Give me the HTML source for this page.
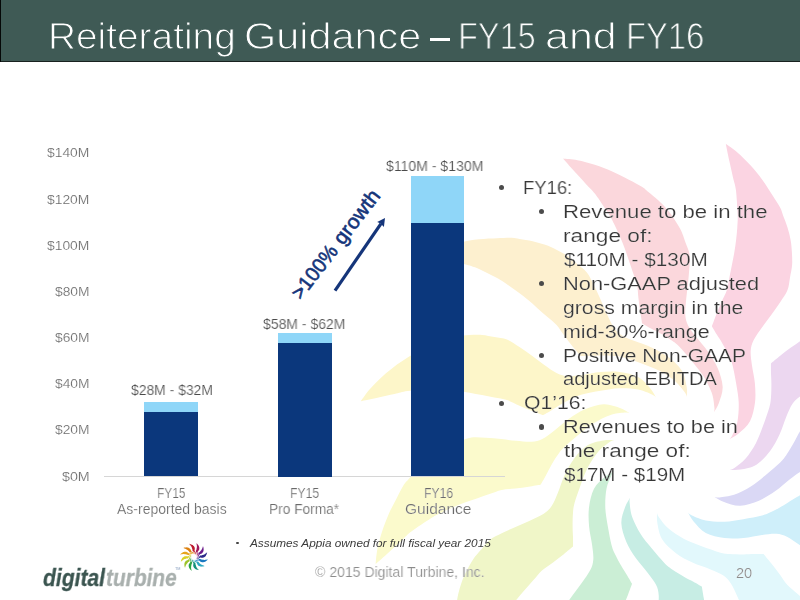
<!DOCTYPE html>
<html>
<head>
<meta charset="utf-8">
<title>Reiterating Guidance</title>
<style>
html,body{margin:0;padding:0;}
body{width:800px;height:600px;position:relative;overflow:hidden;background:#fff;font-family:"Liberation Sans",sans-serif;}
.abs{position:absolute;white-space:nowrap;line-height:1;transform-origin:0 0;will-change:transform;}
#bg{position:absolute;left:0;top:0;width:800px;height:600px;}
#hdr{position:absolute;left:0;top:0;width:800px;height:61px;background:#3f5a55;border-bottom:1px solid #18221f;}
#hdr:before{content:"";position:absolute;left:0;top:0;width:1px;height:62px;background:#050807;}
.gt{top:-17.35px;font-size:20.5px;color:#15357a;-webkit-text-stroke:0.6px #15357a;letter-spacing:0.2px;}
.dot{position:absolute;width:5.2px;height:5.2px;border-radius:50%;background:#4b4b4b;}
</style>
</head>
<body>
<svg id="bg" viewBox="0 0 800 600">
<path d="M725.8 143.8C727.7 145.3 733.3 148.9 737.4 152.5C741.5 156.0 746.1 160.5 750.2 165.1C754.4 169.7 758.7 175.0 762.4 180.0C766.1 185.0 769.4 190.4 772.3 195.0C775.3 199.6 778.3 204.2 780.1 207.6C781.9 210.9 781.7 211.7 782.9 215.0C784.1 218.3 786.2 223.2 787.5 227.4C788.8 231.6 789.9 235.9 790.6 240.1C791.4 244.2 791.6 248.1 791.9 252.3C792.1 256.5 792.4 260.9 792.1 265.1C791.8 269.3 790.7 273.3 790.0 277.4C789.2 281.6 789.2 285.8 787.5 290.0C785.9 294.2 782.7 298.3 780.0 302.5C777.3 306.6 774.1 310.9 771.2 315.0C768.2 319.0 765.2 322.9 762.3 327.0C759.4 331.2 755.7 336.1 753.7 340.0C751.8 343.9 751.0 346.5 750.7 350.6C750.4 354.8 751.2 359.5 751.9 365.0C752.6 370.4 754.4 377.2 754.9 383.5C755.4 389.7 755.8 396.2 755.0 402.5C754.2 408.8 752.7 416.1 750.0 421.2C747.3 426.4 742.0 430.4 738.6 433.4C735.2 436.3 731.1 438.1 729.6 439.0C730.1 438.3 731.2 438.0 732.5 435.0C733.8 432.0 736.5 426.6 737.5 421.2C738.5 415.8 738.9 408.7 738.7 402.5C738.5 396.3 737.2 390.0 736.2 383.7C735.1 377.5 733.7 369.8 732.5 365.0C731.2 360.3 730.5 358.9 728.8 355.4C727.2 351.8 724.5 347.2 722.5 343.7C720.5 340.2 718.6 337.5 716.8 334.6C715.0 331.6 712.7 327.6 711.9 326.2C712.6 324.4 714.6 319.0 716.1 315.0C717.7 311.0 719.5 306.6 721.3 302.5C723.1 298.3 725.5 294.2 726.9 290.0C728.2 285.8 728.5 281.6 729.4 277.4C730.2 273.3 731.1 269.2 731.9 265.0C732.7 260.9 733.6 256.7 734.3 252.6C735.0 248.4 735.6 244.2 736.1 240.0C736.6 235.8 737.0 231.5 737.3 227.4C737.5 223.2 737.9 221.1 737.7 215.0C737.4 208.9 736.7 196.9 736.0 190.6C735.2 184.4 734.1 182.5 733.0 177.5C731.9 172.5 730.5 166.1 729.2 160.5C728.0 154.9 726.3 146.6 725.8 143.8Z" fill="#fbd4e2" transform="rotate(0 672 455)"/>
<path d="M725.8 143.8C727.7 145.3 733.3 148.9 737.4 152.5C741.5 156.0 746.1 160.5 750.2 165.1C754.4 169.7 758.7 175.0 762.4 180.0C766.1 185.0 769.4 190.4 772.3 195.0C775.3 199.6 778.3 204.2 780.1 207.6C781.9 210.9 781.7 211.7 782.9 215.0C784.1 218.3 786.2 223.2 787.5 227.4C788.8 231.6 789.9 235.9 790.6 240.1C791.4 244.2 791.6 248.1 791.9 252.3C792.1 256.5 792.4 260.9 792.1 265.1C791.8 269.3 790.7 273.3 790.0 277.4C789.2 281.6 789.2 285.8 787.5 290.0C785.9 294.2 782.7 298.3 780.0 302.5C777.3 306.6 774.1 310.9 771.2 315.0C768.2 319.0 765.2 322.9 762.3 327.0C759.4 331.2 755.7 336.1 753.7 340.0C751.8 343.9 751.0 346.5 750.7 350.6C750.4 354.8 751.2 359.5 751.9 365.0C752.6 370.4 754.4 377.2 754.9 383.5C755.4 389.7 755.8 396.2 755.0 402.5C754.2 408.8 752.7 416.1 750.0 421.2C747.3 426.4 742.0 430.4 738.6 433.4C735.2 436.3 731.1 438.1 729.6 439.0C730.1 438.3 731.2 438.0 732.5 435.0C733.8 432.0 736.5 426.6 737.5 421.2C738.5 415.8 738.9 408.7 738.7 402.5C738.5 396.3 737.2 390.0 736.2 383.7C735.1 377.5 733.7 369.8 732.5 365.0C731.2 360.3 730.5 358.9 728.8 355.4C727.2 351.8 724.5 347.2 722.5 343.7C720.5 340.2 718.6 337.5 716.8 334.6C715.0 331.6 712.7 327.6 711.9 326.2C712.6 324.4 714.6 319.0 716.1 315.0C717.7 311.0 719.5 306.6 721.3 302.5C723.1 298.3 725.5 294.2 726.9 290.0C728.2 285.8 728.5 281.6 729.4 277.4C730.2 273.3 731.1 269.2 731.9 265.0C732.7 260.9 733.6 256.7 734.3 252.6C735.0 248.4 735.6 244.2 736.1 240.0C736.6 235.8 737.0 231.5 737.3 227.4C737.5 223.2 737.9 221.1 737.7 215.0C737.4 208.9 736.7 196.9 736.0 190.6C735.2 184.4 734.1 182.5 733.0 177.5C731.9 172.5 730.5 166.1 729.2 160.5C728.0 154.9 726.3 146.6 725.8 143.8Z" fill="#fbd7dc" transform="rotate(-30 672 455)"/>
<path d="M725.8 143.8C727.7 145.3 733.3 148.9 737.4 152.5C741.5 156.0 746.1 160.5 750.2 165.1C754.4 169.7 758.7 175.0 762.4 180.0C766.1 185.0 769.4 190.4 772.3 195.0C775.3 199.6 778.3 204.2 780.1 207.6C781.9 210.9 781.7 211.7 782.9 215.0C784.1 218.3 786.2 223.2 787.5 227.4C788.8 231.6 789.9 235.9 790.6 240.1C791.4 244.2 791.6 248.1 791.9 252.3C792.1 256.5 792.4 260.9 792.1 265.1C791.8 269.3 790.7 273.3 790.0 277.4C789.2 281.6 789.2 285.8 787.5 290.0C785.9 294.2 782.7 298.3 780.0 302.5C777.3 306.6 774.1 310.9 771.2 315.0C768.2 319.0 765.2 322.9 762.3 327.0C759.4 331.2 755.7 336.1 753.7 340.0C751.8 343.9 751.0 346.5 750.7 350.6C750.4 354.8 751.2 359.5 751.9 365.0C752.6 370.4 754.4 377.2 754.9 383.5C755.4 389.7 755.8 396.2 755.0 402.5C754.2 408.8 752.7 416.1 750.0 421.2C747.3 426.4 742.0 430.4 738.6 433.4C735.2 436.3 731.1 438.1 729.6 439.0C730.1 438.3 731.2 438.0 732.5 435.0C733.8 432.0 736.5 426.6 737.5 421.2C738.5 415.8 738.9 408.7 738.7 402.5C738.5 396.3 737.2 390.0 736.2 383.7C735.1 377.5 733.7 369.8 732.5 365.0C731.2 360.3 730.5 358.9 728.8 355.4C727.2 351.8 724.5 347.2 722.5 343.7C720.5 340.2 718.6 337.5 716.8 334.6C715.0 331.6 712.7 327.6 711.9 326.2C712.6 324.4 714.6 319.0 716.1 315.0C717.7 311.0 719.5 306.6 721.3 302.5C723.1 298.3 725.5 294.2 726.9 290.0C728.2 285.8 728.5 281.6 729.4 277.4C730.2 273.3 731.1 269.2 731.9 265.0C732.7 260.9 733.6 256.7 734.3 252.6C735.0 248.4 735.6 244.2 736.1 240.0C736.6 235.8 737.0 231.5 737.3 227.4C737.5 223.2 737.9 221.1 737.7 215.0C737.4 208.9 736.7 196.9 736.0 190.6C735.2 184.4 734.1 182.5 733.0 177.5C731.9 172.5 730.5 166.1 729.2 160.5C728.0 154.9 726.3 146.6 725.8 143.8Z" fill="#fdf0cf" transform="rotate(-60 672 455)"/>
<path d="M725.8 143.8C727.7 145.3 733.3 148.9 737.4 152.5C741.5 156.0 746.1 160.5 750.2 165.1C754.4 169.7 758.7 175.0 762.4 180.0C766.1 185.0 769.4 190.4 772.3 195.0C775.3 199.6 778.3 204.2 780.1 207.6C781.9 210.9 781.7 211.7 782.9 215.0C784.1 218.3 786.2 223.2 787.5 227.4C788.8 231.6 789.9 235.9 790.6 240.1C791.4 244.2 791.6 248.1 791.9 252.3C792.1 256.5 792.4 260.9 792.1 265.1C791.8 269.3 790.7 273.3 790.0 277.4C789.2 281.6 789.2 285.8 787.5 290.0C785.9 294.2 782.7 298.3 780.0 302.5C777.3 306.6 774.1 310.9 771.2 315.0C768.2 319.0 765.2 322.9 762.3 327.0C759.4 331.2 755.7 336.1 753.7 340.0C751.8 343.9 751.0 346.5 750.7 350.6C750.4 354.8 751.2 359.5 751.9 365.0C752.6 370.4 754.4 377.2 754.9 383.5C755.4 389.7 755.8 396.2 755.0 402.5C754.2 408.8 752.7 416.1 750.0 421.2C747.3 426.4 742.0 430.4 738.6 433.4C735.2 436.3 731.1 438.1 729.6 439.0C730.1 438.3 731.2 438.0 732.5 435.0C733.8 432.0 736.5 426.6 737.5 421.2C738.5 415.8 738.9 408.7 738.7 402.5C738.5 396.3 737.2 390.0 736.2 383.7C735.1 377.5 733.7 369.8 732.5 365.0C731.2 360.3 730.5 358.9 728.8 355.4C727.2 351.8 724.5 347.2 722.5 343.7C720.5 340.2 718.6 337.5 716.8 334.6C715.0 331.6 712.7 327.6 711.9 326.2C712.6 324.4 714.6 319.0 716.1 315.0C717.7 311.0 719.5 306.6 721.3 302.5C723.1 298.3 725.5 294.2 726.9 290.0C728.2 285.8 728.5 281.6 729.4 277.4C730.2 273.3 731.1 269.2 731.9 265.0C732.7 260.9 733.6 256.7 734.3 252.6C735.0 248.4 735.6 244.2 736.1 240.0C736.6 235.8 737.0 231.5 737.3 227.4C737.5 223.2 737.9 221.1 737.7 215.0C737.4 208.9 736.7 196.9 736.0 190.6C735.2 184.4 734.1 182.5 733.0 177.5C731.9 172.5 730.5 166.1 729.2 160.5C728.0 154.9 726.3 146.6 725.8 143.8Z" fill="#fdf6c9" transform="rotate(-90 672 455)"/>
<path d="M725.8 143.8C727.7 145.3 733.3 148.9 737.4 152.5C741.5 156.0 746.1 160.5 750.2 165.1C754.4 169.7 758.7 175.0 762.4 180.0C766.1 185.0 769.4 190.4 772.3 195.0C775.3 199.6 778.3 204.2 780.1 207.6C781.9 210.9 781.7 211.7 782.9 215.0C784.1 218.3 786.2 223.2 787.5 227.4C788.8 231.6 789.9 235.9 790.6 240.1C791.4 244.2 791.6 248.1 791.9 252.3C792.1 256.5 792.4 260.9 792.1 265.1C791.8 269.3 790.7 273.3 790.0 277.4C789.2 281.6 789.2 285.8 787.5 290.0C785.9 294.2 782.7 298.3 780.0 302.5C777.3 306.6 774.1 310.9 771.2 315.0C768.2 319.0 765.2 322.9 762.3 327.0C759.4 331.2 755.7 336.1 753.7 340.0C751.8 343.9 751.0 346.5 750.7 350.6C750.4 354.8 751.2 359.5 751.9 365.0C752.6 370.4 754.4 377.2 754.9 383.5C755.4 389.7 755.8 396.2 755.0 402.5C754.2 408.8 752.7 416.1 750.0 421.2C747.3 426.4 742.0 430.4 738.6 433.4C735.2 436.3 731.1 438.1 729.6 439.0C730.1 438.3 731.2 438.0 732.5 435.0C733.8 432.0 736.5 426.6 737.5 421.2C738.5 415.8 738.9 408.7 738.7 402.5C738.5 396.3 737.2 390.0 736.2 383.7C735.1 377.5 733.7 369.8 732.5 365.0C731.2 360.3 730.5 358.9 728.8 355.4C727.2 351.8 724.5 347.2 722.5 343.7C720.5 340.2 718.6 337.5 716.8 334.6C715.0 331.6 712.7 327.6 711.9 326.2C712.6 324.4 714.6 319.0 716.1 315.0C717.7 311.0 719.5 306.6 721.3 302.5C723.1 298.3 725.5 294.2 726.9 290.0C728.2 285.8 728.5 281.6 729.4 277.4C730.2 273.3 731.1 269.2 731.9 265.0C732.7 260.9 733.6 256.7 734.3 252.6C735.0 248.4 735.6 244.2 736.1 240.0C736.6 235.8 737.0 231.5 737.3 227.4C737.5 223.2 737.9 221.1 737.7 215.0C737.4 208.9 736.7 196.9 736.0 190.6C735.2 184.4 734.1 182.5 733.0 177.5C731.9 172.5 730.5 166.1 729.2 160.5C728.0 154.9 726.3 146.6 725.8 143.8Z" fill="#fbfacc" transform="rotate(-120 672 455)"/>
<path d="M725.8 143.8C727.7 145.3 733.3 148.9 737.4 152.5C741.5 156.0 746.1 160.5 750.2 165.1C754.4 169.7 758.7 175.0 762.4 180.0C766.1 185.0 769.4 190.4 772.3 195.0C775.3 199.6 778.3 204.2 780.1 207.6C781.9 210.9 781.7 211.7 782.9 215.0C784.1 218.3 786.2 223.2 787.5 227.4C788.8 231.6 789.9 235.9 790.6 240.1C791.4 244.2 791.6 248.1 791.9 252.3C792.1 256.5 792.4 260.9 792.1 265.1C791.8 269.3 790.7 273.3 790.0 277.4C789.2 281.6 789.2 285.8 787.5 290.0C785.9 294.2 782.7 298.3 780.0 302.5C777.3 306.6 774.1 310.9 771.2 315.0C768.2 319.0 765.2 322.9 762.3 327.0C759.4 331.2 755.7 336.1 753.7 340.0C751.8 343.9 751.0 346.5 750.7 350.6C750.4 354.8 751.2 359.5 751.9 365.0C752.6 370.4 754.4 377.2 754.9 383.5C755.4 389.7 755.8 396.2 755.0 402.5C754.2 408.8 752.7 416.1 750.0 421.2C747.3 426.4 742.0 430.4 738.6 433.4C735.2 436.3 731.1 438.1 729.6 439.0C730.1 438.3 731.2 438.0 732.5 435.0C733.8 432.0 736.5 426.6 737.5 421.2C738.5 415.8 738.9 408.7 738.7 402.5C738.5 396.3 737.2 390.0 736.2 383.7C735.1 377.5 733.7 369.8 732.5 365.0C731.2 360.3 730.5 358.9 728.8 355.4C727.2 351.8 724.5 347.2 722.5 343.7C720.5 340.2 718.6 337.5 716.8 334.6C715.0 331.6 712.7 327.6 711.9 326.2C712.6 324.4 714.6 319.0 716.1 315.0C717.7 311.0 719.5 306.6 721.3 302.5C723.1 298.3 725.5 294.2 726.9 290.0C728.2 285.8 728.5 281.6 729.4 277.4C730.2 273.3 731.1 269.2 731.9 265.0C732.7 260.9 733.6 256.7 734.3 252.6C735.0 248.4 735.6 244.2 736.1 240.0C736.6 235.8 737.0 231.5 737.3 227.4C737.5 223.2 737.9 221.1 737.7 215.0C737.4 208.9 736.7 196.9 736.0 190.6C735.2 184.4 734.1 182.5 733.0 177.5C731.9 172.5 730.5 166.1 729.2 160.5C728.0 154.9 726.3 146.6 725.8 143.8Z" fill="#f0f6c8" transform="rotate(-150 672 455)"/>
<path d="M725.8 143.8C727.7 145.3 733.3 148.9 737.4 152.5C741.5 156.0 746.1 160.5 750.2 165.1C754.4 169.7 758.7 175.0 762.4 180.0C766.1 185.0 769.4 190.4 772.3 195.0C775.3 199.6 778.3 204.2 780.1 207.6C781.9 210.9 781.7 211.7 782.9 215.0C784.1 218.3 786.2 223.2 787.5 227.4C788.8 231.6 789.9 235.9 790.6 240.1C791.4 244.2 791.6 248.1 791.9 252.3C792.1 256.5 792.4 260.9 792.1 265.1C791.8 269.3 790.7 273.3 790.0 277.4C789.2 281.6 789.2 285.8 787.5 290.0C785.9 294.2 782.7 298.3 780.0 302.5C777.3 306.6 774.1 310.9 771.2 315.0C768.2 319.0 765.2 322.9 762.3 327.0C759.4 331.2 755.7 336.1 753.7 340.0C751.8 343.9 751.0 346.5 750.7 350.6C750.4 354.8 751.2 359.5 751.9 365.0C752.6 370.4 754.4 377.2 754.9 383.5C755.4 389.7 755.8 396.2 755.0 402.5C754.2 408.8 752.7 416.1 750.0 421.2C747.3 426.4 742.0 430.4 738.6 433.4C735.2 436.3 731.1 438.1 729.6 439.0C730.1 438.3 731.2 438.0 732.5 435.0C733.8 432.0 736.5 426.6 737.5 421.2C738.5 415.8 738.9 408.7 738.7 402.5C738.5 396.3 737.2 390.0 736.2 383.7C735.1 377.5 733.7 369.8 732.5 365.0C731.2 360.3 730.5 358.9 728.8 355.4C727.2 351.8 724.5 347.2 722.5 343.7C720.5 340.2 718.6 337.5 716.8 334.6C715.0 331.6 712.7 327.6 711.9 326.2C712.6 324.4 714.6 319.0 716.1 315.0C717.7 311.0 719.5 306.6 721.3 302.5C723.1 298.3 725.5 294.2 726.9 290.0C728.2 285.8 728.5 281.6 729.4 277.4C730.2 273.3 731.1 269.2 731.9 265.0C732.7 260.9 733.6 256.7 734.3 252.6C735.0 248.4 735.6 244.2 736.1 240.0C736.6 235.8 737.0 231.5 737.3 227.4C737.5 223.2 737.9 221.1 737.7 215.0C737.4 208.9 736.7 196.9 736.0 190.6C735.2 184.4 734.1 182.5 733.0 177.5C731.9 172.5 730.5 166.1 729.2 160.5C728.0 154.9 726.3 146.6 725.8 143.8Z" fill="#cbeed5" transform="rotate(-180 672 455)"/>
<path d="M725.8 143.8C727.7 145.3 733.3 148.9 737.4 152.5C741.5 156.0 746.1 160.5 750.2 165.1C754.4 169.7 758.7 175.0 762.4 180.0C766.1 185.0 769.4 190.4 772.3 195.0C775.3 199.6 778.3 204.2 780.1 207.6C781.9 210.9 781.7 211.7 782.9 215.0C784.1 218.3 786.2 223.2 787.5 227.4C788.8 231.6 789.9 235.9 790.6 240.1C791.4 244.2 791.6 248.1 791.9 252.3C792.1 256.5 792.4 260.9 792.1 265.1C791.8 269.3 790.7 273.3 790.0 277.4C789.2 281.6 789.2 285.8 787.5 290.0C785.9 294.2 782.7 298.3 780.0 302.5C777.3 306.6 774.1 310.9 771.2 315.0C768.2 319.0 765.2 322.9 762.3 327.0C759.4 331.2 755.7 336.1 753.7 340.0C751.8 343.9 751.0 346.5 750.7 350.6C750.4 354.8 751.2 359.5 751.9 365.0C752.6 370.4 754.4 377.2 754.9 383.5C755.4 389.7 755.8 396.2 755.0 402.5C754.2 408.8 752.7 416.1 750.0 421.2C747.3 426.4 742.0 430.4 738.6 433.4C735.2 436.3 731.1 438.1 729.6 439.0C730.1 438.3 731.2 438.0 732.5 435.0C733.8 432.0 736.5 426.6 737.5 421.2C738.5 415.8 738.9 408.7 738.7 402.5C738.5 396.3 737.2 390.0 736.2 383.7C735.1 377.5 733.7 369.8 732.5 365.0C731.2 360.3 730.5 358.9 728.8 355.4C727.2 351.8 724.5 347.2 722.5 343.7C720.5 340.2 718.6 337.5 716.8 334.6C715.0 331.6 712.7 327.6 711.9 326.2C712.6 324.4 714.6 319.0 716.1 315.0C717.7 311.0 719.5 306.6 721.3 302.5C723.1 298.3 725.5 294.2 726.9 290.0C728.2 285.8 728.5 281.6 729.4 277.4C730.2 273.3 731.1 269.2 731.9 265.0C732.7 260.9 733.6 256.7 734.3 252.6C735.0 248.4 735.6 244.2 736.1 240.0C736.6 235.8 737.0 231.5 737.3 227.4C737.5 223.2 737.9 221.1 737.7 215.0C737.4 208.9 736.7 196.9 736.0 190.6C735.2 184.4 734.1 182.5 733.0 177.5C731.9 172.5 730.5 166.1 729.2 160.5C728.0 154.9 726.3 146.6 725.8 143.8Z" fill="#c7ede4" transform="rotate(-210 672 455)"/>
<path d="M725.8 143.8C727.7 145.3 733.3 148.9 737.4 152.5C741.5 156.0 746.1 160.5 750.2 165.1C754.4 169.7 758.7 175.0 762.4 180.0C766.1 185.0 769.4 190.4 772.3 195.0C775.3 199.6 778.3 204.2 780.1 207.6C781.9 210.9 781.7 211.7 782.9 215.0C784.1 218.3 786.2 223.2 787.5 227.4C788.8 231.6 789.9 235.9 790.6 240.1C791.4 244.2 791.6 248.1 791.9 252.3C792.1 256.5 792.4 260.9 792.1 265.1C791.8 269.3 790.7 273.3 790.0 277.4C789.2 281.6 789.2 285.8 787.5 290.0C785.9 294.2 782.7 298.3 780.0 302.5C777.3 306.6 774.1 310.9 771.2 315.0C768.2 319.0 765.2 322.9 762.3 327.0C759.4 331.2 755.7 336.1 753.7 340.0C751.8 343.9 751.0 346.5 750.7 350.6C750.4 354.8 751.2 359.5 751.9 365.0C752.6 370.4 754.4 377.2 754.9 383.5C755.4 389.7 755.8 396.2 755.0 402.5C754.2 408.8 752.7 416.1 750.0 421.2C747.3 426.4 742.0 430.4 738.6 433.4C735.2 436.3 731.1 438.1 729.6 439.0C730.1 438.3 731.2 438.0 732.5 435.0C733.8 432.0 736.5 426.6 737.5 421.2C738.5 415.8 738.9 408.7 738.7 402.5C738.5 396.3 737.2 390.0 736.2 383.7C735.1 377.5 733.7 369.8 732.5 365.0C731.2 360.3 730.5 358.9 728.8 355.4C727.2 351.8 724.5 347.2 722.5 343.7C720.5 340.2 718.6 337.5 716.8 334.6C715.0 331.6 712.7 327.6 711.9 326.2C712.6 324.4 714.6 319.0 716.1 315.0C717.7 311.0 719.5 306.6 721.3 302.5C723.1 298.3 725.5 294.2 726.9 290.0C728.2 285.8 728.5 281.6 729.4 277.4C730.2 273.3 731.1 269.2 731.9 265.0C732.7 260.9 733.6 256.7 734.3 252.6C735.0 248.4 735.6 244.2 736.1 240.0C736.6 235.8 737.0 231.5 737.3 227.4C737.5 223.2 737.9 221.1 737.7 215.0C737.4 208.9 736.7 196.9 736.0 190.6C735.2 184.4 734.1 182.5 733.0 177.5C731.9 172.5 730.5 166.1 729.2 160.5C728.0 154.9 726.3 146.6 725.8 143.8Z" fill="#e2f8fc" transform="rotate(-240 672 455)"/>
<path d="M725.8 143.8C727.7 145.3 733.3 148.9 737.4 152.5C741.5 156.0 746.1 160.5 750.2 165.1C754.4 169.7 758.7 175.0 762.4 180.0C766.1 185.0 769.4 190.4 772.3 195.0C775.3 199.6 778.3 204.2 780.1 207.6C781.9 210.9 781.7 211.7 782.9 215.0C784.1 218.3 786.2 223.2 787.5 227.4C788.8 231.6 789.9 235.9 790.6 240.1C791.4 244.2 791.6 248.1 791.9 252.3C792.1 256.5 792.4 260.9 792.1 265.1C791.8 269.3 790.7 273.3 790.0 277.4C789.2 281.6 789.2 285.8 787.5 290.0C785.9 294.2 782.7 298.3 780.0 302.5C777.3 306.6 774.1 310.9 771.2 315.0C768.2 319.0 765.2 322.9 762.3 327.0C759.4 331.2 755.7 336.1 753.7 340.0C751.8 343.9 751.0 346.5 750.7 350.6C750.4 354.8 751.2 359.5 751.9 365.0C752.6 370.4 754.4 377.2 754.9 383.5C755.4 389.7 755.8 396.2 755.0 402.5C754.2 408.8 752.7 416.1 750.0 421.2C747.3 426.4 742.0 430.4 738.6 433.4C735.2 436.3 731.1 438.1 729.6 439.0C730.1 438.3 731.2 438.0 732.5 435.0C733.8 432.0 736.5 426.6 737.5 421.2C738.5 415.8 738.9 408.7 738.7 402.5C738.5 396.3 737.2 390.0 736.2 383.7C735.1 377.5 733.7 369.8 732.5 365.0C731.2 360.3 730.5 358.9 728.8 355.4C727.2 351.8 724.5 347.2 722.5 343.7C720.5 340.2 718.6 337.5 716.8 334.6C715.0 331.6 712.7 327.6 711.9 326.2C712.6 324.4 714.6 319.0 716.1 315.0C717.7 311.0 719.5 306.6 721.3 302.5C723.1 298.3 725.5 294.2 726.9 290.0C728.2 285.8 728.5 281.6 729.4 277.4C730.2 273.3 731.1 269.2 731.9 265.0C732.7 260.9 733.6 256.7 734.3 252.6C735.0 248.4 735.6 244.2 736.1 240.0C736.6 235.8 737.0 231.5 737.3 227.4C737.5 223.2 737.9 221.1 737.7 215.0C737.4 208.9 736.7 196.9 736.0 190.6C735.2 184.4 734.1 182.5 733.0 177.5C731.9 172.5 730.5 166.1 729.2 160.5C728.0 154.9 726.3 146.6 725.8 143.8Z" fill="#cfeffa" transform="rotate(-270 672 455)"/>
<path d="M725.8 143.8C727.7 145.3 733.3 148.9 737.4 152.5C741.5 156.0 746.1 160.5 750.2 165.1C754.4 169.7 758.7 175.0 762.4 180.0C766.1 185.0 769.4 190.4 772.3 195.0C775.3 199.6 778.3 204.2 780.1 207.6C781.9 210.9 781.7 211.7 782.9 215.0C784.1 218.3 786.2 223.2 787.5 227.4C788.8 231.6 789.9 235.9 790.6 240.1C791.4 244.2 791.6 248.1 791.9 252.3C792.1 256.5 792.4 260.9 792.1 265.1C791.8 269.3 790.7 273.3 790.0 277.4C789.2 281.6 789.2 285.8 787.5 290.0C785.9 294.2 782.7 298.3 780.0 302.5C777.3 306.6 774.1 310.9 771.2 315.0C768.2 319.0 765.2 322.9 762.3 327.0C759.4 331.2 755.7 336.1 753.7 340.0C751.8 343.9 751.0 346.5 750.7 350.6C750.4 354.8 751.2 359.5 751.9 365.0C752.6 370.4 754.4 377.2 754.9 383.5C755.4 389.7 755.8 396.2 755.0 402.5C754.2 408.8 752.7 416.1 750.0 421.2C747.3 426.4 742.0 430.4 738.6 433.4C735.2 436.3 731.1 438.1 729.6 439.0C730.1 438.3 731.2 438.0 732.5 435.0C733.8 432.0 736.5 426.6 737.5 421.2C738.5 415.8 738.9 408.7 738.7 402.5C738.5 396.3 737.2 390.0 736.2 383.7C735.1 377.5 733.7 369.8 732.5 365.0C731.2 360.3 730.5 358.9 728.8 355.4C727.2 351.8 724.5 347.2 722.5 343.7C720.5 340.2 718.6 337.5 716.8 334.6C715.0 331.6 712.7 327.6 711.9 326.2C712.6 324.4 714.6 319.0 716.1 315.0C717.7 311.0 719.5 306.6 721.3 302.5C723.1 298.3 725.5 294.2 726.9 290.0C728.2 285.8 728.5 281.6 729.4 277.4C730.2 273.3 731.1 269.2 731.9 265.0C732.7 260.9 733.6 256.7 734.3 252.6C735.0 248.4 735.6 244.2 736.1 240.0C736.6 235.8 737.0 231.5 737.3 227.4C737.5 223.2 737.9 221.1 737.7 215.0C737.4 208.9 736.7 196.9 736.0 190.6C735.2 184.4 734.1 182.5 733.0 177.5C731.9 172.5 730.5 166.1 729.2 160.5C728.0 154.9 726.3 146.6 725.8 143.8Z" fill="#dad8f5" transform="rotate(-300 672 455)"/>
<path d="M725.8 143.8C727.7 145.3 733.3 148.9 737.4 152.5C741.5 156.0 746.1 160.5 750.2 165.1C754.4 169.7 758.7 175.0 762.4 180.0C766.1 185.0 769.4 190.4 772.3 195.0C775.3 199.6 778.3 204.2 780.1 207.6C781.9 210.9 781.7 211.7 782.9 215.0C784.1 218.3 786.2 223.2 787.5 227.4C788.8 231.6 789.9 235.9 790.6 240.1C791.4 244.2 791.6 248.1 791.9 252.3C792.1 256.5 792.4 260.9 792.1 265.1C791.8 269.3 790.7 273.3 790.0 277.4C789.2 281.6 789.2 285.8 787.5 290.0C785.9 294.2 782.7 298.3 780.0 302.5C777.3 306.6 774.1 310.9 771.2 315.0C768.2 319.0 765.2 322.9 762.3 327.0C759.4 331.2 755.7 336.1 753.7 340.0C751.8 343.9 751.0 346.5 750.7 350.6C750.4 354.8 751.2 359.5 751.9 365.0C752.6 370.4 754.4 377.2 754.9 383.5C755.4 389.7 755.8 396.2 755.0 402.5C754.2 408.8 752.7 416.1 750.0 421.2C747.3 426.4 742.0 430.4 738.6 433.4C735.2 436.3 731.1 438.1 729.6 439.0C730.1 438.3 731.2 438.0 732.5 435.0C733.8 432.0 736.5 426.6 737.5 421.2C738.5 415.8 738.9 408.7 738.7 402.5C738.5 396.3 737.2 390.0 736.2 383.7C735.1 377.5 733.7 369.8 732.5 365.0C731.2 360.3 730.5 358.9 728.8 355.4C727.2 351.8 724.5 347.2 722.5 343.7C720.5 340.2 718.6 337.5 716.8 334.6C715.0 331.6 712.7 327.6 711.9 326.2C712.6 324.4 714.6 319.0 716.1 315.0C717.7 311.0 719.5 306.6 721.3 302.5C723.1 298.3 725.5 294.2 726.9 290.0C728.2 285.8 728.5 281.6 729.4 277.4C730.2 273.3 731.1 269.2 731.9 265.0C732.7 260.9 733.6 256.7 734.3 252.6C735.0 248.4 735.6 244.2 736.1 240.0C736.6 235.8 737.0 231.5 737.3 227.4C737.5 223.2 737.9 221.1 737.7 215.0C737.4 208.9 736.7 196.9 736.0 190.6C735.2 184.4 734.1 182.5 733.0 177.5C731.9 172.5 730.5 166.1 729.2 160.5C728.0 154.9 726.3 146.6 725.8 143.8Z" fill="#ecd7f0" transform="rotate(-330 672 455)"/>
</svg>
<div id="hdr"></div>
<div class="abs" style="left:47.91px;top:19px;font-size:36.4px;color:#fff;transform:scaleX(1.0667);-webkit-text-stroke:1px #3f5a55;">Reiterating</div>
<div class="abs" style="left:244.35px;top:19px;font-size:36.4px;color:#fff;transform:scaleX(1.1384);-webkit-text-stroke:1px #3f5a55;">Guidance</div>
<div class="abs" style="left:458.31px;top:19px;font-size:36.4px;color:#fff;transform:scaleX(0.8936);-webkit-text-stroke:1px #3f5a55;">FY15</div>
<div class="abs" style="left:545.03px;top:19px;font-size:36.4px;color:#fff;transform:scaleX(1.1810);-webkit-text-stroke:1px #3f5a55;">and</div>
<div class="abs" style="left:626.09px;top:19px;font-size:36.4px;color:#fff;transform:scaleX(0.8995);-webkit-text-stroke:1px #3f5a55;">FY16</div>
<div class="abs" style="left:429.7px;top:37.5px;width:19.5px;height:2.6px;background:#fff"></div>
<div class="abs" style="left:47.39px;top:146px;font-size:13.2px;color:#696969;transform:scaleX(1.0509);-webkit-text-stroke:0.22px rgba(255,255,255,0.85);">$140M</div>
<div class="abs" style="left:47.39px;top:193px;font-size:13.2px;color:#696969;transform:scaleX(1.0509);-webkit-text-stroke:0.22px rgba(255,255,255,0.85);">$120M</div>
<div class="abs" style="left:47.39px;top:239px;font-size:13.2px;color:#696969;transform:scaleX(1.0509);-webkit-text-stroke:0.22px rgba(255,255,255,0.85);">$100M</div>
<div class="abs" style="left:55.30px;top:285px;font-size:13.2px;color:#696969;transform:scaleX(1.0470);-webkit-text-stroke:0.22px rgba(255,255,255,0.85);">$80M</div>
<div class="abs" style="left:55.30px;top:331px;font-size:13.2px;color:#696969;transform:scaleX(1.0470);-webkit-text-stroke:0.22px rgba(255,255,255,0.85);">$60M</div>
<div class="abs" style="left:55.30px;top:377px;font-size:13.2px;color:#696969;transform:scaleX(1.0470);-webkit-text-stroke:0.22px rgba(255,255,255,0.85);">$40M</div>
<div class="abs" style="left:55.30px;top:423px;font-size:13.2px;color:#696969;transform:scaleX(1.0470);-webkit-text-stroke:0.22px rgba(255,255,255,0.85);">$20M</div>
<div class="abs" style="left:62.09px;top:470px;font-size:13.2px;color:#696969;transform:scaleX(1.0813);-webkit-text-stroke:0.22px rgba(255,255,255,0.85);">$0M</div>
<div class="abs" style="left:104px;top:475.6px;width:401px;height:1px;background:#d6d6d6"></div>
<div class="abs" style="left:144.4px;top:402.3px;width:53.7px;height:10.2px;background:#8fd6f8"></div><div class="abs" style="left:144.4px;top:412.0px;width:53.7px;height:64.0px;background:#0b377c"></div>
<div class="abs" style="left:278.2px;top:333.4px;width:53.8px;height:9.6px;background:#8fd6f8"></div><div class="abs" style="left:278.2px;top:342.5px;width:53.8px;height:133.5px;background:#0b377c"></div>
<div class="abs" style="left:411.3px;top:176.1px;width:53.2px;height:47.3px;background:#8fd6f8"></div><div class="abs" style="left:411.3px;top:222.9px;width:53.2px;height:253.1px;background:#0b377c"></div>
<div class="abs" style="left:131.40px;top:383px;font-size:14.3px;color:#4a4a4a;transform:scaleX(0.9729);-webkit-text-stroke:0.22px rgba(255,255,255,0.85);">$28M - $32M</div>
<div class="abs" style="left:262.90px;top:317px;font-size:14.3px;color:#4a4a4a;transform:scaleX(0.9783);-webkit-text-stroke:0.22px rgba(255,255,255,0.85);">$58M - $62M</div>
<div class="abs" style="left:386.10px;top:159px;font-size:14.3px;color:#4a4a4a;transform:scaleX(0.9826);-webkit-text-stroke:0.22px rgba(255,255,255,0.85);">$110M - $130M</div>
<div class="abs" style="left:157.07px;top:486px;font-size:14px;color:#6a6a6a;transform:scaleX(0.8491);-webkit-text-stroke:0.22px rgba(255,255,255,0.85);">FY15</div>
<div class="abs" style="left:117.00px;top:502px;font-size:14px;color:#6a6a6a;-webkit-text-stroke:0.22px rgba(255,255,255,0.85);">As-reported basis</div>
<div class="abs" style="left:289.65px;top:486px;font-size:14px;color:#6a6a6a;transform:scaleX(0.8679);-webkit-text-stroke:0.22px rgba(255,255,255,0.85);">FY15</div>
<div class="abs" style="left:269.42px;top:502px;font-size:14px;color:#6a6a6a;transform:scaleX(0.9801);-webkit-text-stroke:0.22px rgba(255,255,255,0.85);">Pro Forma*</div>
<div class="abs" style="left:423.55px;top:486px;font-size:14px;color:#6a6a6a;transform:scaleX(0.8679);-webkit-text-stroke:0.22px rgba(255,255,255,0.85);">FY16</div>
<div class="abs" style="left:404.52px;top:502px;font-size:14px;color:#6a6a6a;transform:scaleX(1.1092);-webkit-text-stroke:0.22px rgba(255,255,255,0.85);">Guidance</div>
<div class="abs" style="left:342.6px;top:246.3px;width:0;height:0;transform:rotate(-52.5deg);will-change:auto;">
  <div class="abs gt" style="left:-69.2px;transform:scaleX(0.955);will-change:auto;">&gt;100%</div>
  <div class="abs gt" style="left:0.1px;transform:scaleX(1.007);will-change:auto;">growth</div>
</div>
<svg class="abs" style="left:320px;top:200px;will-change:auto;" width="80" height="110" viewBox="320 200 80 110">
  <line x1="335" y1="290.6" x2="381" y2="223.6" stroke="#15357a" stroke-width="3.2"/>
  <path d="M385 218 L377.2 222 L380.6 223.4 L383.9 227 Z" fill="#15357a"/>
</svg>

<div class="abs" style="left:522.96px;top:178px;font-size:19.2px;color:#363636;transform:scaleX(0.9625);-webkit-text-stroke:0.22px rgba(255,255,255,0.8);">FY16:</div>
<div class="dot" style="left:498.65px;top:185.30px"></div>
<div class="abs" style="left:562.52px;top:202px;font-size:19.2px;color:#363636;transform:scaleX(1.1549);-webkit-text-stroke:0.22px rgba(255,255,255,0.8);">Revenue to be in the</div>
<div class="dot" style="left:539.15px;top:209.03px"></div>
<div class="abs" style="left:562.83px;top:226px;font-size:19.2px;color:#363636;transform:scaleX(1.1831);-webkit-text-stroke:0.22px rgba(255,255,255,0.8);">range of:</div>
<div class="abs" style="left:564.03px;top:250px;font-size:19.2px;color:#363636;transform:scaleX(1.0807);-webkit-text-stroke:0.22px rgba(255,255,255,0.8);">$110M - $130M</div>
<div class="abs" style="left:562.54px;top:274px;font-size:19.2px;color:#363636;transform:scaleX(1.1374);-webkit-text-stroke:0.22px rgba(255,255,255,0.8);">Non-GAAP adjusted</div>
<div class="dot" style="left:539.15px;top:280.82px"></div>
<div class="abs" style="left:563.37px;top:298px;font-size:19.2px;color:#363636;transform:scaleX(1.1054);-webkit-text-stroke:0.22px rgba(255,255,255,0.8);">gross margin in the</div>
<div class="abs" style="left:562.91px;top:322px;font-size:19.2px;color:#363636;transform:scaleX(1.1176);-webkit-text-stroke:0.22px rgba(255,255,255,0.8);">mid-30%-range</div>
<div class="abs" style="left:562.61px;top:346px;font-size:19.2px;color:#363636;transform:scaleX(1.0924);-webkit-text-stroke:0.22px rgba(255,255,255,0.8);">Positive Non-GAAP</div>
<div class="dot" style="left:539.15px;top:352.61px"></div>
<div class="abs" style="left:563.41px;top:369px;font-size:19.2px;color:#363636;transform:scaleX(1.0461);-webkit-text-stroke:0.22px rgba(255,255,255,0.8);">adjusted EBITDA</div>
<div class="abs" style="left:524.01px;top:393px;font-size:19.2px;color:#363636;transform:scaleX(1.1039);-webkit-text-stroke:0.22px rgba(255,255,255,0.8);">Q1’16:</div>
<div class="dot" style="left:498.65px;top:400.67px"></div>
<div class="abs" style="left:562.55px;top:417px;font-size:19.2px;color:#363636;transform:scaleX(1.1308);-webkit-text-stroke:0.22px rgba(255,255,255,0.8);">Revenues to be in</div>
<div class="dot" style="left:539.15px;top:424.40px"></div>
<div class="abs" style="left:564.01px;top:441px;font-size:19.2px;color:#363636;transform:scaleX(1.1756);-webkit-text-stroke:0.22px rgba(255,255,255,0.8);">the range of:</div>
<div class="abs" style="left:564.04px;top:465px;font-size:19.2px;color:#363636;transform:scaleX(1.0727);-webkit-text-stroke:0.22px rgba(255,255,255,0.8);">$17M - $19M</div>
<div class="dot" style="left:236.1px;top:541.5px;width:2.6px;height:2.6px;background:#444"></div>
<div class="abs" style="left:250.27px;top:538px;font-size:10.6px;color:#3c3c3c;font-style:italic;transform:scaleX(1.1131);">Assumes Appia owned for full fiscal year 2015</div>
<div class="abs" style="left:315.30px;top:565px;font-size:14.2px;color:#8b8b8b;transform:scaleX(0.9897);-webkit-text-stroke:0.22px rgba(255,255,255,0.85);">© 2015 Digital Turbine, Inc.</div>
<div class="abs" style="left:736.48px;top:566px;font-size:14.2px;color:#8b8b8b;transform:scaleX(1.0274);-webkit-text-stroke:0.22px rgba(255,255,255,0.85);">20</div>
<div class="abs" style="left:42.80px;top:566px;font-size:24.7px;color:#3b5550;font-weight:bold;font-style:italic;transform:scaleX(0.8538);-webkit-text-stroke:0.3px #3b5550;">digital</div>
<div class="abs" style="left:106.35px;top:566px;font-size:24.7px;color:#a9b0ae;font-weight:bold;font-style:italic;transform:scaleX(0.8453);-webkit-text-stroke:0.3px #a9b0ae;">turbine</div>
<div class="abs" style="left:175.00px;top:568px;font-size:3.8px;color:#8aa0c0;transform:scaleX(0.9615);">TM</div>
<svg class="abs" id="pin" style="left:172.8px;top:536.4px" width="42" height="42" viewBox="-21 -21 42 42">
<path d="M2.38 -13.80C2.47 -13.73 2.72 -13.57 2.90 -13.41C3.08 -13.25 3.28 -13.06 3.47 -12.85C3.65 -12.65 3.85 -12.41 4.01 -12.19C4.17 -11.97 4.32 -11.73 4.45 -11.53C4.58 -11.32 4.71 -11.12 4.79 -10.97C4.87 -10.82 4.86 -10.79 4.92 -10.64C4.97 -10.49 5.06 -10.27 5.12 -10.09C5.18 -9.90 5.23 -9.71 5.26 -9.53C5.29 -9.34 5.30 -9.17 5.31 -8.99C5.32 -8.80 5.34 -8.61 5.32 -8.42C5.31 -8.23 5.26 -8.06 5.23 -7.87C5.20 -7.69 5.19 -7.50 5.12 -7.31C5.05 -7.13 4.91 -6.95 4.79 -6.76C4.67 -6.58 4.53 -6.39 4.40 -6.21C4.26 -6.03 4.13 -5.86 4.00 -5.67C3.87 -5.49 3.71 -5.27 3.62 -5.10C3.54 -4.92 3.50 -4.81 3.49 -4.63C3.47 -4.44 3.51 -4.23 3.54 -3.99C3.58 -3.75 3.65 -3.45 3.67 -3.17C3.70 -2.89 3.72 -2.61 3.68 -2.33C3.64 -2.05 3.58 -1.72 3.46 -1.50C3.34 -1.27 3.10 -1.09 2.95 -0.96C2.80 -0.83 2.62 -0.75 2.55 -0.71C2.58 -0.74 2.62 -0.76 2.68 -0.89C2.74 -1.02 2.86 -1.26 2.90 -1.50C2.95 -1.74 2.97 -2.05 2.96 -2.33C2.95 -2.60 2.89 -2.88 2.84 -3.16C2.80 -3.44 2.73 -3.78 2.68 -3.99C2.63 -4.20 2.59 -4.26 2.52 -4.42C2.45 -4.57 2.33 -4.78 2.24 -4.93C2.15 -5.09 2.06 -5.21 1.99 -5.34C1.91 -5.47 1.80 -5.65 1.77 -5.71C1.80 -5.79 1.89 -6.03 1.96 -6.21C2.03 -6.38 2.10 -6.58 2.18 -6.76C2.26 -6.95 2.37 -7.13 2.43 -7.32C2.49 -7.50 2.51 -7.69 2.54 -7.87C2.58 -8.06 2.62 -8.24 2.66 -8.42C2.69 -8.61 2.73 -8.79 2.76 -8.97C2.79 -9.16 2.82 -9.35 2.84 -9.53C2.86 -9.72 2.88 -9.91 2.89 -10.09C2.90 -10.28 2.92 -10.37 2.91 -10.64C2.90 -10.91 2.87 -11.44 2.84 -11.72C2.80 -12.00 2.75 -12.08 2.70 -12.30C2.65 -12.52 2.59 -12.81 2.54 -13.06C2.48 -13.30 2.41 -13.67 2.38 -13.80Z" fill="#a3195b" transform="rotate(0)"/>
<path d="M2.38 -13.80C2.47 -13.73 2.72 -13.57 2.90 -13.41C3.08 -13.25 3.28 -13.06 3.47 -12.85C3.65 -12.65 3.85 -12.41 4.01 -12.19C4.17 -11.97 4.32 -11.73 4.45 -11.53C4.58 -11.32 4.71 -11.12 4.79 -10.97C4.87 -10.82 4.86 -10.79 4.92 -10.64C4.97 -10.49 5.06 -10.27 5.12 -10.09C5.18 -9.90 5.23 -9.71 5.26 -9.53C5.29 -9.34 5.30 -9.17 5.31 -8.99C5.32 -8.80 5.34 -8.61 5.32 -8.42C5.31 -8.23 5.26 -8.06 5.23 -7.87C5.20 -7.69 5.19 -7.50 5.12 -7.31C5.05 -7.13 4.91 -6.95 4.79 -6.76C4.67 -6.58 4.53 -6.39 4.40 -6.21C4.26 -6.03 4.13 -5.86 4.00 -5.67C3.87 -5.49 3.71 -5.27 3.62 -5.10C3.54 -4.92 3.50 -4.81 3.49 -4.63C3.47 -4.44 3.51 -4.23 3.54 -3.99C3.58 -3.75 3.65 -3.45 3.67 -3.17C3.70 -2.89 3.72 -2.61 3.68 -2.33C3.64 -2.05 3.58 -1.72 3.46 -1.50C3.34 -1.27 3.10 -1.09 2.95 -0.96C2.80 -0.83 2.62 -0.75 2.55 -0.71C2.58 -0.74 2.62 -0.76 2.68 -0.89C2.74 -1.02 2.86 -1.26 2.90 -1.50C2.95 -1.74 2.97 -2.05 2.96 -2.33C2.95 -2.60 2.89 -2.88 2.84 -3.16C2.80 -3.44 2.73 -3.78 2.68 -3.99C2.63 -4.20 2.59 -4.26 2.52 -4.42C2.45 -4.57 2.33 -4.78 2.24 -4.93C2.15 -5.09 2.06 -5.21 1.99 -5.34C1.91 -5.47 1.80 -5.65 1.77 -5.71C1.80 -5.79 1.89 -6.03 1.96 -6.21C2.03 -6.38 2.10 -6.58 2.18 -6.76C2.26 -6.95 2.37 -7.13 2.43 -7.32C2.49 -7.50 2.51 -7.69 2.54 -7.87C2.58 -8.06 2.62 -8.24 2.66 -8.42C2.69 -8.61 2.73 -8.79 2.76 -8.97C2.79 -9.16 2.82 -9.35 2.84 -9.53C2.86 -9.72 2.88 -9.91 2.89 -10.09C2.90 -10.28 2.92 -10.37 2.91 -10.64C2.90 -10.91 2.87 -11.44 2.84 -11.72C2.80 -12.00 2.75 -12.08 2.70 -12.30C2.65 -12.52 2.59 -12.81 2.54 -13.06C2.48 -13.30 2.41 -13.67 2.38 -13.80Z" fill="#be1a2d" transform="rotate(-30)"/>
<path d="M2.38 -13.80C2.47 -13.73 2.72 -13.57 2.90 -13.41C3.08 -13.25 3.28 -13.06 3.47 -12.85C3.65 -12.65 3.85 -12.41 4.01 -12.19C4.17 -11.97 4.32 -11.73 4.45 -11.53C4.58 -11.32 4.71 -11.12 4.79 -10.97C4.87 -10.82 4.86 -10.79 4.92 -10.64C4.97 -10.49 5.06 -10.27 5.12 -10.09C5.18 -9.90 5.23 -9.71 5.26 -9.53C5.29 -9.34 5.30 -9.17 5.31 -8.99C5.32 -8.80 5.34 -8.61 5.32 -8.42C5.31 -8.23 5.26 -8.06 5.23 -7.87C5.20 -7.69 5.19 -7.50 5.12 -7.31C5.05 -7.13 4.91 -6.95 4.79 -6.76C4.67 -6.58 4.53 -6.39 4.40 -6.21C4.26 -6.03 4.13 -5.86 4.00 -5.67C3.87 -5.49 3.71 -5.27 3.62 -5.10C3.54 -4.92 3.50 -4.81 3.49 -4.63C3.47 -4.44 3.51 -4.23 3.54 -3.99C3.58 -3.75 3.65 -3.45 3.67 -3.17C3.70 -2.89 3.72 -2.61 3.68 -2.33C3.64 -2.05 3.58 -1.72 3.46 -1.50C3.34 -1.27 3.10 -1.09 2.95 -0.96C2.80 -0.83 2.62 -0.75 2.55 -0.71C2.58 -0.74 2.62 -0.76 2.68 -0.89C2.74 -1.02 2.86 -1.26 2.90 -1.50C2.95 -1.74 2.97 -2.05 2.96 -2.33C2.95 -2.60 2.89 -2.88 2.84 -3.16C2.80 -3.44 2.73 -3.78 2.68 -3.99C2.63 -4.20 2.59 -4.26 2.52 -4.42C2.45 -4.57 2.33 -4.78 2.24 -4.93C2.15 -5.09 2.06 -5.21 1.99 -5.34C1.91 -5.47 1.80 -5.65 1.77 -5.71C1.80 -5.79 1.89 -6.03 1.96 -6.21C2.03 -6.38 2.10 -6.58 2.18 -6.76C2.26 -6.95 2.37 -7.13 2.43 -7.32C2.49 -7.50 2.51 -7.69 2.54 -7.87C2.58 -8.06 2.62 -8.24 2.66 -8.42C2.69 -8.61 2.73 -8.79 2.76 -8.97C2.79 -9.16 2.82 -9.35 2.84 -9.53C2.86 -9.72 2.88 -9.91 2.89 -10.09C2.90 -10.28 2.92 -10.37 2.91 -10.64C2.90 -10.91 2.87 -11.44 2.84 -11.72C2.80 -12.00 2.75 -12.08 2.70 -12.30C2.65 -12.52 2.59 -12.81 2.54 -13.06C2.48 -13.30 2.41 -13.67 2.38 -13.80Z" fill="#dc800f" transform="rotate(-60)"/>
<path d="M2.38 -13.80C2.47 -13.73 2.72 -13.57 2.90 -13.41C3.08 -13.25 3.28 -13.06 3.47 -12.85C3.65 -12.65 3.85 -12.41 4.01 -12.19C4.17 -11.97 4.32 -11.73 4.45 -11.53C4.58 -11.32 4.71 -11.12 4.79 -10.97C4.87 -10.82 4.86 -10.79 4.92 -10.64C4.97 -10.49 5.06 -10.27 5.12 -10.09C5.18 -9.90 5.23 -9.71 5.26 -9.53C5.29 -9.34 5.30 -9.17 5.31 -8.99C5.32 -8.80 5.34 -8.61 5.32 -8.42C5.31 -8.23 5.26 -8.06 5.23 -7.87C5.20 -7.69 5.19 -7.50 5.12 -7.31C5.05 -7.13 4.91 -6.95 4.79 -6.76C4.67 -6.58 4.53 -6.39 4.40 -6.21C4.26 -6.03 4.13 -5.86 4.00 -5.67C3.87 -5.49 3.71 -5.27 3.62 -5.10C3.54 -4.92 3.50 -4.81 3.49 -4.63C3.47 -4.44 3.51 -4.23 3.54 -3.99C3.58 -3.75 3.65 -3.45 3.67 -3.17C3.70 -2.89 3.72 -2.61 3.68 -2.33C3.64 -2.05 3.58 -1.72 3.46 -1.50C3.34 -1.27 3.10 -1.09 2.95 -0.96C2.80 -0.83 2.62 -0.75 2.55 -0.71C2.58 -0.74 2.62 -0.76 2.68 -0.89C2.74 -1.02 2.86 -1.26 2.90 -1.50C2.95 -1.74 2.97 -2.05 2.96 -2.33C2.95 -2.60 2.89 -2.88 2.84 -3.16C2.80 -3.44 2.73 -3.78 2.68 -3.99C2.63 -4.20 2.59 -4.26 2.52 -4.42C2.45 -4.57 2.33 -4.78 2.24 -4.93C2.15 -5.09 2.06 -5.21 1.99 -5.34C1.91 -5.47 1.80 -5.65 1.77 -5.71C1.80 -5.79 1.89 -6.03 1.96 -6.21C2.03 -6.38 2.10 -6.58 2.18 -6.76C2.26 -6.95 2.37 -7.13 2.43 -7.32C2.49 -7.50 2.51 -7.69 2.54 -7.87C2.58 -8.06 2.62 -8.24 2.66 -8.42C2.69 -8.61 2.73 -8.79 2.76 -8.97C2.79 -9.16 2.82 -9.35 2.84 -9.53C2.86 -9.72 2.88 -9.91 2.89 -10.09C2.90 -10.28 2.92 -10.37 2.91 -10.64C2.90 -10.91 2.87 -11.44 2.84 -11.72C2.80 -12.00 2.75 -12.08 2.70 -12.30C2.65 -12.52 2.59 -12.81 2.54 -13.06C2.48 -13.30 2.41 -13.67 2.38 -13.80Z" fill="#e6a31c" transform="rotate(-90)"/>
<path d="M2.38 -13.80C2.47 -13.73 2.72 -13.57 2.90 -13.41C3.08 -13.25 3.28 -13.06 3.47 -12.85C3.65 -12.65 3.85 -12.41 4.01 -12.19C4.17 -11.97 4.32 -11.73 4.45 -11.53C4.58 -11.32 4.71 -11.12 4.79 -10.97C4.87 -10.82 4.86 -10.79 4.92 -10.64C4.97 -10.49 5.06 -10.27 5.12 -10.09C5.18 -9.90 5.23 -9.71 5.26 -9.53C5.29 -9.34 5.30 -9.17 5.31 -8.99C5.32 -8.80 5.34 -8.61 5.32 -8.42C5.31 -8.23 5.26 -8.06 5.23 -7.87C5.20 -7.69 5.19 -7.50 5.12 -7.31C5.05 -7.13 4.91 -6.95 4.79 -6.76C4.67 -6.58 4.53 -6.39 4.40 -6.21C4.26 -6.03 4.13 -5.86 4.00 -5.67C3.87 -5.49 3.71 -5.27 3.62 -5.10C3.54 -4.92 3.50 -4.81 3.49 -4.63C3.47 -4.44 3.51 -4.23 3.54 -3.99C3.58 -3.75 3.65 -3.45 3.67 -3.17C3.70 -2.89 3.72 -2.61 3.68 -2.33C3.64 -2.05 3.58 -1.72 3.46 -1.50C3.34 -1.27 3.10 -1.09 2.95 -0.96C2.80 -0.83 2.62 -0.75 2.55 -0.71C2.58 -0.74 2.62 -0.76 2.68 -0.89C2.74 -1.02 2.86 -1.26 2.90 -1.50C2.95 -1.74 2.97 -2.05 2.96 -2.33C2.95 -2.60 2.89 -2.88 2.84 -3.16C2.80 -3.44 2.73 -3.78 2.68 -3.99C2.63 -4.20 2.59 -4.26 2.52 -4.42C2.45 -4.57 2.33 -4.78 2.24 -4.93C2.15 -5.09 2.06 -5.21 1.99 -5.34C1.91 -5.47 1.80 -5.65 1.77 -5.71C1.80 -5.79 1.89 -6.03 1.96 -6.21C2.03 -6.38 2.10 -6.58 2.18 -6.76C2.26 -6.95 2.37 -7.13 2.43 -7.32C2.49 -7.50 2.51 -7.69 2.54 -7.87C2.58 -8.06 2.62 -8.24 2.66 -8.42C2.69 -8.61 2.73 -8.79 2.76 -8.97C2.79 -9.16 2.82 -9.35 2.84 -9.53C2.86 -9.72 2.88 -9.91 2.89 -10.09C2.90 -10.28 2.92 -10.37 2.91 -10.64C2.90 -10.91 2.87 -11.44 2.84 -11.72C2.80 -12.00 2.75 -12.08 2.70 -12.30C2.65 -12.52 2.59 -12.81 2.54 -13.06C2.48 -13.30 2.41 -13.67 2.38 -13.80Z" fill="#d9cf22" transform="rotate(-120)"/>
<path d="M2.38 -13.80C2.47 -13.73 2.72 -13.57 2.90 -13.41C3.08 -13.25 3.28 -13.06 3.47 -12.85C3.65 -12.65 3.85 -12.41 4.01 -12.19C4.17 -11.97 4.32 -11.73 4.45 -11.53C4.58 -11.32 4.71 -11.12 4.79 -10.97C4.87 -10.82 4.86 -10.79 4.92 -10.64C4.97 -10.49 5.06 -10.27 5.12 -10.09C5.18 -9.90 5.23 -9.71 5.26 -9.53C5.29 -9.34 5.30 -9.17 5.31 -8.99C5.32 -8.80 5.34 -8.61 5.32 -8.42C5.31 -8.23 5.26 -8.06 5.23 -7.87C5.20 -7.69 5.19 -7.50 5.12 -7.31C5.05 -7.13 4.91 -6.95 4.79 -6.76C4.67 -6.58 4.53 -6.39 4.40 -6.21C4.26 -6.03 4.13 -5.86 4.00 -5.67C3.87 -5.49 3.71 -5.27 3.62 -5.10C3.54 -4.92 3.50 -4.81 3.49 -4.63C3.47 -4.44 3.51 -4.23 3.54 -3.99C3.58 -3.75 3.65 -3.45 3.67 -3.17C3.70 -2.89 3.72 -2.61 3.68 -2.33C3.64 -2.05 3.58 -1.72 3.46 -1.50C3.34 -1.27 3.10 -1.09 2.95 -0.96C2.80 -0.83 2.62 -0.75 2.55 -0.71C2.58 -0.74 2.62 -0.76 2.68 -0.89C2.74 -1.02 2.86 -1.26 2.90 -1.50C2.95 -1.74 2.97 -2.05 2.96 -2.33C2.95 -2.60 2.89 -2.88 2.84 -3.16C2.80 -3.44 2.73 -3.78 2.68 -3.99C2.63 -4.20 2.59 -4.26 2.52 -4.42C2.45 -4.57 2.33 -4.78 2.24 -4.93C2.15 -5.09 2.06 -5.21 1.99 -5.34C1.91 -5.47 1.80 -5.65 1.77 -5.71C1.80 -5.79 1.89 -6.03 1.96 -6.21C2.03 -6.38 2.10 -6.58 2.18 -6.76C2.26 -6.95 2.37 -7.13 2.43 -7.32C2.49 -7.50 2.51 -7.69 2.54 -7.87C2.58 -8.06 2.62 -8.24 2.66 -8.42C2.69 -8.61 2.73 -8.79 2.76 -8.97C2.79 -9.16 2.82 -9.35 2.84 -9.53C2.86 -9.72 2.88 -9.91 2.89 -10.09C2.90 -10.28 2.92 -10.37 2.91 -10.64C2.90 -10.91 2.87 -11.44 2.84 -11.72C2.80 -12.00 2.75 -12.08 2.70 -12.30C2.65 -12.52 2.59 -12.81 2.54 -13.06C2.48 -13.30 2.41 -13.67 2.38 -13.80Z" fill="#9dc32b" transform="rotate(-150)"/>
<path d="M2.38 -13.80C2.47 -13.73 2.72 -13.57 2.90 -13.41C3.08 -13.25 3.28 -13.06 3.47 -12.85C3.65 -12.65 3.85 -12.41 4.01 -12.19C4.17 -11.97 4.32 -11.73 4.45 -11.53C4.58 -11.32 4.71 -11.12 4.79 -10.97C4.87 -10.82 4.86 -10.79 4.92 -10.64C4.97 -10.49 5.06 -10.27 5.12 -10.09C5.18 -9.90 5.23 -9.71 5.26 -9.53C5.29 -9.34 5.30 -9.17 5.31 -8.99C5.32 -8.80 5.34 -8.61 5.32 -8.42C5.31 -8.23 5.26 -8.06 5.23 -7.87C5.20 -7.69 5.19 -7.50 5.12 -7.31C5.05 -7.13 4.91 -6.95 4.79 -6.76C4.67 -6.58 4.53 -6.39 4.40 -6.21C4.26 -6.03 4.13 -5.86 4.00 -5.67C3.87 -5.49 3.71 -5.27 3.62 -5.10C3.54 -4.92 3.50 -4.81 3.49 -4.63C3.47 -4.44 3.51 -4.23 3.54 -3.99C3.58 -3.75 3.65 -3.45 3.67 -3.17C3.70 -2.89 3.72 -2.61 3.68 -2.33C3.64 -2.05 3.58 -1.72 3.46 -1.50C3.34 -1.27 3.10 -1.09 2.95 -0.96C2.80 -0.83 2.62 -0.75 2.55 -0.71C2.58 -0.74 2.62 -0.76 2.68 -0.89C2.74 -1.02 2.86 -1.26 2.90 -1.50C2.95 -1.74 2.97 -2.05 2.96 -2.33C2.95 -2.60 2.89 -2.88 2.84 -3.16C2.80 -3.44 2.73 -3.78 2.68 -3.99C2.63 -4.20 2.59 -4.26 2.52 -4.42C2.45 -4.57 2.33 -4.78 2.24 -4.93C2.15 -5.09 2.06 -5.21 1.99 -5.34C1.91 -5.47 1.80 -5.65 1.77 -5.71C1.80 -5.79 1.89 -6.03 1.96 -6.21C2.03 -6.38 2.10 -6.58 2.18 -6.76C2.26 -6.95 2.37 -7.13 2.43 -7.32C2.49 -7.50 2.51 -7.69 2.54 -7.87C2.58 -8.06 2.62 -8.24 2.66 -8.42C2.69 -8.61 2.73 -8.79 2.76 -8.97C2.79 -9.16 2.82 -9.35 2.84 -9.53C2.86 -9.72 2.88 -9.91 2.89 -10.09C2.90 -10.28 2.92 -10.37 2.91 -10.64C2.90 -10.91 2.87 -11.44 2.84 -11.72C2.80 -12.00 2.75 -12.08 2.70 -12.30C2.65 -12.52 2.59 -12.81 2.54 -13.06C2.48 -13.30 2.41 -13.67 2.38 -13.80Z" fill="#2ba343" transform="rotate(-180)"/>
<path d="M2.38 -13.80C2.47 -13.73 2.72 -13.57 2.90 -13.41C3.08 -13.25 3.28 -13.06 3.47 -12.85C3.65 -12.65 3.85 -12.41 4.01 -12.19C4.17 -11.97 4.32 -11.73 4.45 -11.53C4.58 -11.32 4.71 -11.12 4.79 -10.97C4.87 -10.82 4.86 -10.79 4.92 -10.64C4.97 -10.49 5.06 -10.27 5.12 -10.09C5.18 -9.90 5.23 -9.71 5.26 -9.53C5.29 -9.34 5.30 -9.17 5.31 -8.99C5.32 -8.80 5.34 -8.61 5.32 -8.42C5.31 -8.23 5.26 -8.06 5.23 -7.87C5.20 -7.69 5.19 -7.50 5.12 -7.31C5.05 -7.13 4.91 -6.95 4.79 -6.76C4.67 -6.58 4.53 -6.39 4.40 -6.21C4.26 -6.03 4.13 -5.86 4.00 -5.67C3.87 -5.49 3.71 -5.27 3.62 -5.10C3.54 -4.92 3.50 -4.81 3.49 -4.63C3.47 -4.44 3.51 -4.23 3.54 -3.99C3.58 -3.75 3.65 -3.45 3.67 -3.17C3.70 -2.89 3.72 -2.61 3.68 -2.33C3.64 -2.05 3.58 -1.72 3.46 -1.50C3.34 -1.27 3.10 -1.09 2.95 -0.96C2.80 -0.83 2.62 -0.75 2.55 -0.71C2.58 -0.74 2.62 -0.76 2.68 -0.89C2.74 -1.02 2.86 -1.26 2.90 -1.50C2.95 -1.74 2.97 -2.05 2.96 -2.33C2.95 -2.60 2.89 -2.88 2.84 -3.16C2.80 -3.44 2.73 -3.78 2.68 -3.99C2.63 -4.20 2.59 -4.26 2.52 -4.42C2.45 -4.57 2.33 -4.78 2.24 -4.93C2.15 -5.09 2.06 -5.21 1.99 -5.34C1.91 -5.47 1.80 -5.65 1.77 -5.71C1.80 -5.79 1.89 -6.03 1.96 -6.21C2.03 -6.38 2.10 -6.58 2.18 -6.76C2.26 -6.95 2.37 -7.13 2.43 -7.32C2.49 -7.50 2.51 -7.69 2.54 -7.87C2.58 -8.06 2.62 -8.24 2.66 -8.42C2.69 -8.61 2.73 -8.79 2.76 -8.97C2.79 -9.16 2.82 -9.35 2.84 -9.53C2.86 -9.72 2.88 -9.91 2.89 -10.09C2.90 -10.28 2.92 -10.37 2.91 -10.64C2.90 -10.91 2.87 -11.44 2.84 -11.72C2.80 -12.00 2.75 -12.08 2.70 -12.30C2.65 -12.52 2.59 -12.81 2.54 -13.06C2.48 -13.30 2.41 -13.67 2.38 -13.80Z" fill="#12917a" transform="rotate(-210)"/>
<path d="M2.38 -13.80C2.47 -13.73 2.72 -13.57 2.90 -13.41C3.08 -13.25 3.28 -13.06 3.47 -12.85C3.65 -12.65 3.85 -12.41 4.01 -12.19C4.17 -11.97 4.32 -11.73 4.45 -11.53C4.58 -11.32 4.71 -11.12 4.79 -10.97C4.87 -10.82 4.86 -10.79 4.92 -10.64C4.97 -10.49 5.06 -10.27 5.12 -10.09C5.18 -9.90 5.23 -9.71 5.26 -9.53C5.29 -9.34 5.30 -9.17 5.31 -8.99C5.32 -8.80 5.34 -8.61 5.32 -8.42C5.31 -8.23 5.26 -8.06 5.23 -7.87C5.20 -7.69 5.19 -7.50 5.12 -7.31C5.05 -7.13 4.91 -6.95 4.79 -6.76C4.67 -6.58 4.53 -6.39 4.40 -6.21C4.26 -6.03 4.13 -5.86 4.00 -5.67C3.87 -5.49 3.71 -5.27 3.62 -5.10C3.54 -4.92 3.50 -4.81 3.49 -4.63C3.47 -4.44 3.51 -4.23 3.54 -3.99C3.58 -3.75 3.65 -3.45 3.67 -3.17C3.70 -2.89 3.72 -2.61 3.68 -2.33C3.64 -2.05 3.58 -1.72 3.46 -1.50C3.34 -1.27 3.10 -1.09 2.95 -0.96C2.80 -0.83 2.62 -0.75 2.55 -0.71C2.58 -0.74 2.62 -0.76 2.68 -0.89C2.74 -1.02 2.86 -1.26 2.90 -1.50C2.95 -1.74 2.97 -2.05 2.96 -2.33C2.95 -2.60 2.89 -2.88 2.84 -3.16C2.80 -3.44 2.73 -3.78 2.68 -3.99C2.63 -4.20 2.59 -4.26 2.52 -4.42C2.45 -4.57 2.33 -4.78 2.24 -4.93C2.15 -5.09 2.06 -5.21 1.99 -5.34C1.91 -5.47 1.80 -5.65 1.77 -5.71C1.80 -5.79 1.89 -6.03 1.96 -6.21C2.03 -6.38 2.10 -6.58 2.18 -6.76C2.26 -6.95 2.37 -7.13 2.43 -7.32C2.49 -7.50 2.51 -7.69 2.54 -7.87C2.58 -8.06 2.62 -8.24 2.66 -8.42C2.69 -8.61 2.73 -8.79 2.76 -8.97C2.79 -9.16 2.82 -9.35 2.84 -9.53C2.86 -9.72 2.88 -9.91 2.89 -10.09C2.90 -10.28 2.92 -10.37 2.91 -10.64C2.90 -10.91 2.87 -11.44 2.84 -11.72C2.80 -12.00 2.75 -12.08 2.70 -12.30C2.65 -12.52 2.59 -12.81 2.54 -13.06C2.48 -13.30 2.41 -13.67 2.38 -13.80Z" fill="#2fa9c1" transform="rotate(-240)"/>
<path d="M2.38 -13.80C2.47 -13.73 2.72 -13.57 2.90 -13.41C3.08 -13.25 3.28 -13.06 3.47 -12.85C3.65 -12.65 3.85 -12.41 4.01 -12.19C4.17 -11.97 4.32 -11.73 4.45 -11.53C4.58 -11.32 4.71 -11.12 4.79 -10.97C4.87 -10.82 4.86 -10.79 4.92 -10.64C4.97 -10.49 5.06 -10.27 5.12 -10.09C5.18 -9.90 5.23 -9.71 5.26 -9.53C5.29 -9.34 5.30 -9.17 5.31 -8.99C5.32 -8.80 5.34 -8.61 5.32 -8.42C5.31 -8.23 5.26 -8.06 5.23 -7.87C5.20 -7.69 5.19 -7.50 5.12 -7.31C5.05 -7.13 4.91 -6.95 4.79 -6.76C4.67 -6.58 4.53 -6.39 4.40 -6.21C4.26 -6.03 4.13 -5.86 4.00 -5.67C3.87 -5.49 3.71 -5.27 3.62 -5.10C3.54 -4.92 3.50 -4.81 3.49 -4.63C3.47 -4.44 3.51 -4.23 3.54 -3.99C3.58 -3.75 3.65 -3.45 3.67 -3.17C3.70 -2.89 3.72 -2.61 3.68 -2.33C3.64 -2.05 3.58 -1.72 3.46 -1.50C3.34 -1.27 3.10 -1.09 2.95 -0.96C2.80 -0.83 2.62 -0.75 2.55 -0.71C2.58 -0.74 2.62 -0.76 2.68 -0.89C2.74 -1.02 2.86 -1.26 2.90 -1.50C2.95 -1.74 2.97 -2.05 2.96 -2.33C2.95 -2.60 2.89 -2.88 2.84 -3.16C2.80 -3.44 2.73 -3.78 2.68 -3.99C2.63 -4.20 2.59 -4.26 2.52 -4.42C2.45 -4.57 2.33 -4.78 2.24 -4.93C2.15 -5.09 2.06 -5.21 1.99 -5.34C1.91 -5.47 1.80 -5.65 1.77 -5.71C1.80 -5.79 1.89 -6.03 1.96 -6.21C2.03 -6.38 2.10 -6.58 2.18 -6.76C2.26 -6.95 2.37 -7.13 2.43 -7.32C2.49 -7.50 2.51 -7.69 2.54 -7.87C2.58 -8.06 2.62 -8.24 2.66 -8.42C2.69 -8.61 2.73 -8.79 2.76 -8.97C2.79 -9.16 2.82 -9.35 2.84 -9.53C2.86 -9.72 2.88 -9.91 2.89 -10.09C2.90 -10.28 2.92 -10.37 2.91 -10.64C2.90 -10.91 2.87 -11.44 2.84 -11.72C2.80 -12.00 2.75 -12.08 2.70 -12.30C2.65 -12.52 2.59 -12.81 2.54 -13.06C2.48 -13.30 2.41 -13.67 2.38 -13.80Z" fill="#1a79c1" transform="rotate(-270)"/>
<path d="M2.38 -13.80C2.47 -13.73 2.72 -13.57 2.90 -13.41C3.08 -13.25 3.28 -13.06 3.47 -12.85C3.65 -12.65 3.85 -12.41 4.01 -12.19C4.17 -11.97 4.32 -11.73 4.45 -11.53C4.58 -11.32 4.71 -11.12 4.79 -10.97C4.87 -10.82 4.86 -10.79 4.92 -10.64C4.97 -10.49 5.06 -10.27 5.12 -10.09C5.18 -9.90 5.23 -9.71 5.26 -9.53C5.29 -9.34 5.30 -9.17 5.31 -8.99C5.32 -8.80 5.34 -8.61 5.32 -8.42C5.31 -8.23 5.26 -8.06 5.23 -7.87C5.20 -7.69 5.19 -7.50 5.12 -7.31C5.05 -7.13 4.91 -6.95 4.79 -6.76C4.67 -6.58 4.53 -6.39 4.40 -6.21C4.26 -6.03 4.13 -5.86 4.00 -5.67C3.87 -5.49 3.71 -5.27 3.62 -5.10C3.54 -4.92 3.50 -4.81 3.49 -4.63C3.47 -4.44 3.51 -4.23 3.54 -3.99C3.58 -3.75 3.65 -3.45 3.67 -3.17C3.70 -2.89 3.72 -2.61 3.68 -2.33C3.64 -2.05 3.58 -1.72 3.46 -1.50C3.34 -1.27 3.10 -1.09 2.95 -0.96C2.80 -0.83 2.62 -0.75 2.55 -0.71C2.58 -0.74 2.62 -0.76 2.68 -0.89C2.74 -1.02 2.86 -1.26 2.90 -1.50C2.95 -1.74 2.97 -2.05 2.96 -2.33C2.95 -2.60 2.89 -2.88 2.84 -3.16C2.80 -3.44 2.73 -3.78 2.68 -3.99C2.63 -4.20 2.59 -4.26 2.52 -4.42C2.45 -4.57 2.33 -4.78 2.24 -4.93C2.15 -5.09 2.06 -5.21 1.99 -5.34C1.91 -5.47 1.80 -5.65 1.77 -5.71C1.80 -5.79 1.89 -6.03 1.96 -6.21C2.03 -6.38 2.10 -6.58 2.18 -6.76C2.26 -6.95 2.37 -7.13 2.43 -7.32C2.49 -7.50 2.51 -7.69 2.54 -7.87C2.58 -8.06 2.62 -8.24 2.66 -8.42C2.69 -8.61 2.73 -8.79 2.76 -8.97C2.79 -9.16 2.82 -9.35 2.84 -9.53C2.86 -9.72 2.88 -9.91 2.89 -10.09C2.90 -10.28 2.92 -10.37 2.91 -10.64C2.90 -10.91 2.87 -11.44 2.84 -11.72C2.80 -12.00 2.75 -12.08 2.70 -12.30C2.65 -12.52 2.59 -12.81 2.54 -13.06C2.48 -13.30 2.41 -13.67 2.38 -13.80Z" fill="#2b2a8a" transform="rotate(-300)"/>
<path d="M2.38 -13.80C2.47 -13.73 2.72 -13.57 2.90 -13.41C3.08 -13.25 3.28 -13.06 3.47 -12.85C3.65 -12.65 3.85 -12.41 4.01 -12.19C4.17 -11.97 4.32 -11.73 4.45 -11.53C4.58 -11.32 4.71 -11.12 4.79 -10.97C4.87 -10.82 4.86 -10.79 4.92 -10.64C4.97 -10.49 5.06 -10.27 5.12 -10.09C5.18 -9.90 5.23 -9.71 5.26 -9.53C5.29 -9.34 5.30 -9.17 5.31 -8.99C5.32 -8.80 5.34 -8.61 5.32 -8.42C5.31 -8.23 5.26 -8.06 5.23 -7.87C5.20 -7.69 5.19 -7.50 5.12 -7.31C5.05 -7.13 4.91 -6.95 4.79 -6.76C4.67 -6.58 4.53 -6.39 4.40 -6.21C4.26 -6.03 4.13 -5.86 4.00 -5.67C3.87 -5.49 3.71 -5.27 3.62 -5.10C3.54 -4.92 3.50 -4.81 3.49 -4.63C3.47 -4.44 3.51 -4.23 3.54 -3.99C3.58 -3.75 3.65 -3.45 3.67 -3.17C3.70 -2.89 3.72 -2.61 3.68 -2.33C3.64 -2.05 3.58 -1.72 3.46 -1.50C3.34 -1.27 3.10 -1.09 2.95 -0.96C2.80 -0.83 2.62 -0.75 2.55 -0.71C2.58 -0.74 2.62 -0.76 2.68 -0.89C2.74 -1.02 2.86 -1.26 2.90 -1.50C2.95 -1.74 2.97 -2.05 2.96 -2.33C2.95 -2.60 2.89 -2.88 2.84 -3.16C2.80 -3.44 2.73 -3.78 2.68 -3.99C2.63 -4.20 2.59 -4.26 2.52 -4.42C2.45 -4.57 2.33 -4.78 2.24 -4.93C2.15 -5.09 2.06 -5.21 1.99 -5.34C1.91 -5.47 1.80 -5.65 1.77 -5.71C1.80 -5.79 1.89 -6.03 1.96 -6.21C2.03 -6.38 2.10 -6.58 2.18 -6.76C2.26 -6.95 2.37 -7.13 2.43 -7.32C2.49 -7.50 2.51 -7.69 2.54 -7.87C2.58 -8.06 2.62 -8.24 2.66 -8.42C2.69 -8.61 2.73 -8.79 2.76 -8.97C2.79 -9.16 2.82 -9.35 2.84 -9.53C2.86 -9.72 2.88 -9.91 2.89 -10.09C2.90 -10.28 2.92 -10.37 2.91 -10.64C2.90 -10.91 2.87 -11.44 2.84 -11.72C2.80 -12.00 2.75 -12.08 2.70 -12.30C2.65 -12.52 2.59 -12.81 2.54 -13.06C2.48 -13.30 2.41 -13.67 2.38 -13.80Z" fill="#6a1b8a" transform="rotate(-330)"/>
</svg>
</body>
</html>
